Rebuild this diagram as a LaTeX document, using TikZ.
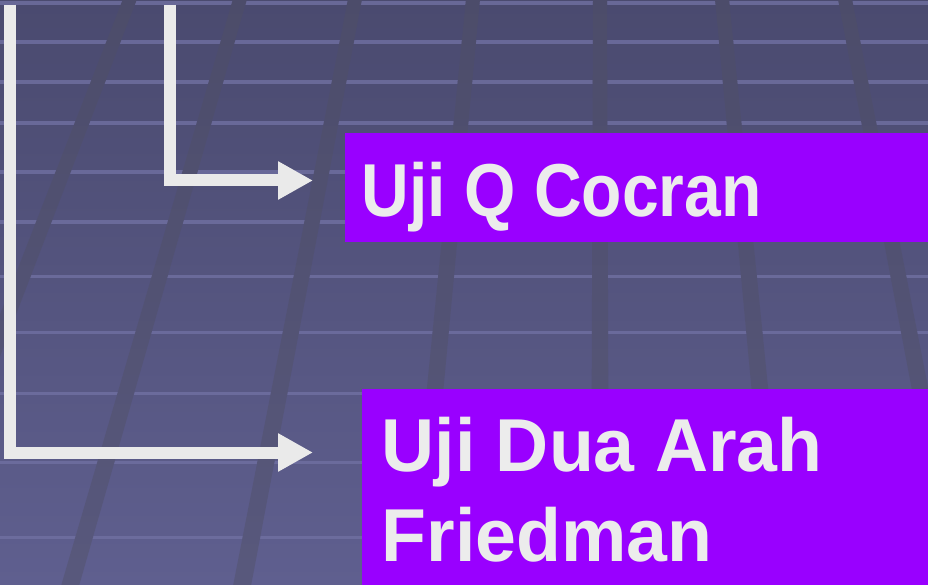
\documentclass[tikz,border=0pt]{standalone}
\usepackage{graphicx}
\usepackage{fontspec}
\setmainfont{Liberation Sans}
\usetikzlibrary{arrows.meta}
\definecolor{bgtop}{RGB}{74,74,111}
\definecolor{bgbot}{RGB}{95,95,143}
\definecolor{stripec}{RGB}{112,112,162}
\definecolor{bandc}{RGB}{80,80,100}
\definecolor{boxc}{RGB}{153,0,255}
\definecolor{linec}{RGB}{234,234,234}
\definecolor{textc}{RGB}{236,236,236}
\begin{document}
\begin{tikzpicture}[x=1pt,y=-1pt,
  box/.style={fill=boxc, draw=none, inner sep=0pt, anchor=north west},
  lbl/.style={text=textc, font=\fontsize{75}{89}\selectfont\bfseries, inner sep=0pt, anchor=base west},
  conn/.style={draw=linec, line width=12pt, line join=miter, -{Triangle[length=35pt,width=36pt]}},
  stripe/.style={fill=stripec, fill opacity=0.8},
  band/.style={fill=bandc, fill opacity=0.42}]
\useasboundingbox (0,0) rectangle (928,585);
% background
\shade[top color=bgtop, bottom color=bgbot] (0,0) rectangle (928,585);
\foreach \y in {3,42,82,123,172,222,276,332,393,462,537}
  \fill[stripe] (0,\y-1.5) rectangle (928,\y+2);
\begin{scope}
  \clip \foreach \t/\b in {130/-97, 240/70, 355/242, 473/416, 600/600, 722/779, 845/958}
    { ({\t-7},-1) -- ({\t+7},-1) -- ({\b+9},586) -- ({\b-9},586) -- cycle };
  \shade[top color=bgtop, bottom color=bgbot] (0,0) rectangle (928,585);
\end{scope}
\foreach \t/\b in {130/-97, 240/70, 355/242, 473/416, 600/600, 722/779, 845/958}
  \fill[band] ({\t-7},-1) -- ({\t+7},-1) -- ({\b+9},586) -- ({\b-9},586) -- cycle;
% boxes
\node[box, minimum width=590pt, minimum height=108.7pt] (b1) at (345,133) {};
\node[box, minimum width=570pt, minimum height=200pt] (b2) at (362,389) {};
\node[lbl] (t1) at (361.5,216.5) {\scalebox{0.88}[1]{Uji Q Cocran}};
\node[lbl] (t2a) at (381.5,471.7) {\scalebox{0.98}[1]{Uji Dua Arah}};
\node[lbl] (t2b) at (381.5,561) {\scalebox{0.98}[1]{Friedman}};
% connectors
\coordinate (s1) at (10,5);
\coordinate (e1) at (313,452.5);
\coordinate (s2) at (170,5);
\coordinate (e2) at (313,180.5);
\draw[conn] (s1) |- (e1);
\draw[conn] (s2) |- (e2);
\end{tikzpicture}
\end{document}
